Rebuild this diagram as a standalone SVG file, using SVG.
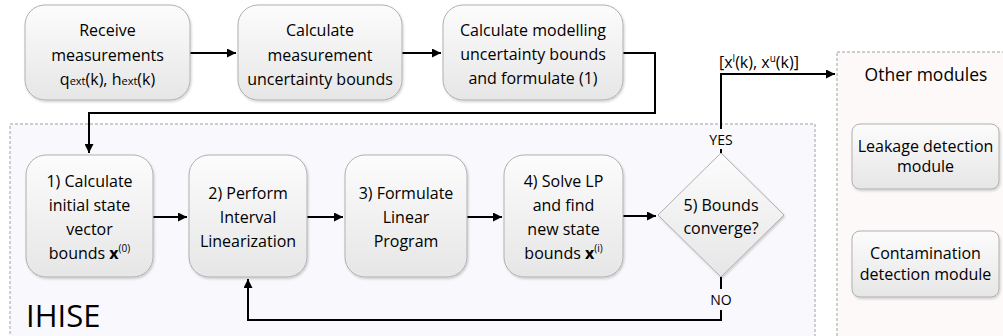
<svg xmlns="http://www.w3.org/2000/svg" width="1003" height="336" viewBox="0 0 1003 336">
  <defs>
    <linearGradient id="boxFill" x1="0" y1="0" x2="0" y2="1">
      <stop offset="0" stop-color="#fcfcfc"/>
      <stop offset="1" stop-color="#e6e6e6"/>
    </linearGradient>
    <filter id="shadow" x="-10%" y="-10%" width="125%" height="125%">
      <feDropShadow dx="1" dy="1.5" stdDeviation="1" flood-color="#000" flood-opacity="0.18"/>
    </filter>
    <marker id="arrow" viewBox="0 0 10 10" refX="10" refY="5" markerWidth="5.5" markerHeight="4.5" markerUnits="strokeWidth" orient="auto">
      <path d="M0,0 L10,5 L0,10 Z" fill="#000"/>
    </marker>
    <style>
      .box { fill: url(#boxFill); stroke: #b0b0b0; stroke-width: 1; filter: url(#shadow); }
      .frame { stroke: #a0a0a0; stroke-width: 1; stroke-dasharray: 3 2; }
      .txt { font-family: "Open Sans", "Liberation Sans", sans-serif; font-size: 16px; fill: #000; text-anchor: middle; }
      .lbl { font-family: "Open Sans", "Liberation Sans", sans-serif; font-size: 14px; fill: #000; text-anchor: middle; }
      .conn { fill: none; stroke: #000; stroke-width: 2; }
      .sub { font-size: 11px; }
      .sup { font-size: 10px; }
    </style>
  </defs>

  <rect width="1003" height="336" fill="#ffffff"/>

  <!-- containers -->
  <g id="ihise">
    <rect class="frame" x="10" y="124" width="805" height="220" fill="#f8f8fd"/>
    <text x="26" y="327" font-family="'Open Sans', 'Liberation Sans', sans-serif" font-size="31" fill="#000">IHISE</text>
  </g>
  <g id="other-modules">
    <rect class="frame" x="837" y="52" width="180" height="292" fill="#fdf9f9"/>
    <text class="txt" x="926" y="81" style="font-size:17.5px">Other modules</text>
  </g>

  <!-- connectors -->
  <g id="connectors">
    <path class="conn" d="M190,53 H236" marker-end="url(#arrow)"/>
    <path class="conn" d="M402,53 H441" marker-end="url(#arrow)"/>
    <path class="conn" d="M623,53 H655 V113 H89 V153" marker-end="url(#arrow)"/>
    <path class="conn" d="M153,217 H187" marker-end="url(#arrow)"/>
    <path class="conn" d="M307,217 H343" marker-end="url(#arrow)"/>
    <path class="conn" d="M467,217 H502" marker-end="url(#arrow)"/>
    <path class="conn" d="M623,216 H656" marker-end="url(#arrow)"/>
    <path class="conn" d="M721,153 V74 H835" marker-end="url(#arrow)"/>
    <path class="conn" d="M721,277 V320 H248 V279" marker-end="url(#arrow)"/>
    <!-- branch labels -->
    <rect x="705" y="129" width="32" height="20" fill="#f8f8fd"/>
    <text class="lbl" x="721" y="145">YES</text>
    <rect x="707" y="289" width="28" height="21" fill="#f8f8fd"/>
    <text class="lbl" x="721" y="305">NO</text>
    <text x="719" y="68" font-family="'Open Sans', 'Liberation Sans', sans-serif" font-size="16" fill="#000">[x<tspan class="sup" dy="-6">l</tspan><tspan dy="6">(k), x</tspan><tspan class="sup" dy="-6">u</tspan><tspan dy="6">(k)]</tspan></text>
  </g>

  <!-- input stage -->
  <g id="receive">
    <rect class="box" x="25" y="5" width="165" height="95" rx="20"/>
    <text class="txt" x="107.5" y="36">Receive</text>
    <text class="txt" x="107.5" y="61">measurements</text>
    <text class="txt" x="107.5" y="85">q<tspan class="sub">ext</tspan>(k), h<tspan class="sub">ext</tspan>(k)</text>
  </g>
  <g id="measurement-bounds">
    <rect class="box" x="238" y="5" width="164" height="95" rx="20"/>
    <text class="txt" x="320" y="36">Calculate</text>
    <text class="txt" x="320" y="61">measurement</text>
    <text class="txt" x="320" y="85">uncertainty bounds</text>
  </g>
  <g id="modelling-bounds">
    <rect class="box" x="443" y="5" width="180" height="95" rx="20"/>
    <text class="txt" x="533" y="36">Calculate modelling</text>
    <text class="txt" x="533" y="60">uncertainty bounds</text>
    <text class="txt" x="533" y="84">and formulate (1)</text>
  </g>

  <!-- IHISE steps -->
  <g id="step1">
    <rect class="box" x="26" y="155" width="127" height="122" rx="20"/>
    <text class="txt" x="89.5" y="187">1) Calculate</text>
    <text class="txt" x="89.5" y="211">initial state</text>
    <text class="txt" x="89.5" y="235">vector</text>
    <text class="txt" x="89.5" y="259">bounds <tspan font-weight="bold">x</tspan><tspan class="sup" dy="-7">(0)</tspan></text>
  </g>
  <g id="step2">
    <rect class="box" x="189" y="155" width="118" height="122" rx="20"/>
    <text class="txt" x="248" y="199">2) Perform</text>
    <text class="txt" x="248" y="223">Interval</text>
    <text class="txt" x="248" y="247">Linearization</text>
  </g>
  <g id="step3">
    <rect class="box" x="345" y="155" width="122" height="122" rx="20"/>
    <text class="txt" x="406" y="199">3) Formulate</text>
    <text class="txt" x="406" y="223">Linear</text>
    <text class="txt" x="406" y="247">Program</text>
  </g>
  <g id="step4">
    <rect class="box" x="504" y="155" width="119" height="122" rx="20"/>
    <text class="txt" x="563.5" y="187">4) Solve LP</text>
    <text class="txt" x="563.5" y="211">and find</text>
    <text class="txt" x="563.5" y="235">new state</text>
    <text class="txt" x="563.5" y="259">bounds <tspan font-weight="bold">x</tspan><tspan class="sup" dy="-7">(i)</tspan></text>
  </g>
  <g id="step5">
    <path class="box" d="M721,153 L784,215 L721,277 L658,215 Z"/>
    <text class="txt" x="721" y="211">5) Bounds</text>
    <text class="txt" x="721" y="234">converge?</text>
  </g>

  <!-- downstream modules -->
  <g id="leakage">
    <rect class="box" x="852" y="124" width="147" height="65" rx="8"/>
    <text class="txt" x="925.5" y="152">Leakage detection</text>
    <text class="txt" x="925.5" y="172">module</text>
  </g>
  <g id="contamination">
    <rect class="box" x="852" y="231" width="147" height="66" rx="8"/>
    <text class="txt" x="925.5" y="259">Contamination</text>
    <text class="txt" x="925.5" y="280">detection module</text>
  </g>
</svg>
